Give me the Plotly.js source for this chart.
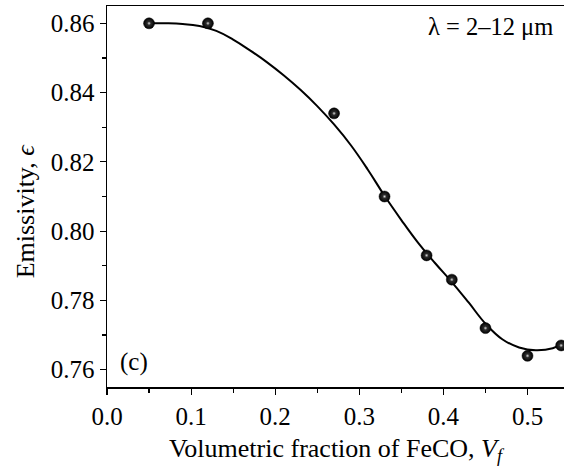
<!DOCTYPE html>
<html>
<head>
<meta charset="utf-8">
<script src="https://cdn.plot.ly/plotly-3.0.1.min.js"></script>
<style>html,body{margin:0;padding:0;background:#fff;}#chart{width:564px;height:472px;}</style>
</head>
<body>
<div id="chart"></div>
<script>
// Measured data points
const volFraction = [0.05, 0.12, 0.27, 0.33, 0.38, 0.41, 0.45, 0.50, 0.54];
const emissivity  = [0.860, 0.860, 0.834, 0.810, 0.793, 0.786, 0.772, 0.764, 0.767];

// Fitted curve
const fitX = [0.05, 0.07, 0.09, 0.11, 0.13, 0.15, 0.17, 0.19, 0.21, 0.23, 0.25, 0.27, 0.29, 0.31, 0.33, 0.35, 0.37, 0.39, 0.41, 0.43, 0.45, 0.47, 0.49, 0.51, 0.53, 0.545];
const fitY = [0.8600, 0.8600, 0.8598, 0.8592, 0.8578, 0.8553, 0.8522, 0.8488, 0.8450, 0.8408, 0.8361, 0.8308, 0.8248, 0.8178, 0.8102, 0.8032, 0.7966, 0.7908, 0.7853, 0.7794, 0.7733, 0.7688, 0.7664, 0.7656, 0.7662, 0.7680];

const xTickVals = [0.0, 0.1, 0.2, 0.3, 0.4, 0.5];
const xTickText = ['0.0', '0.1', '0.2', '0.3', '0.4', '0.5'];
const yTickVals = [0.76, 0.78, 0.80, 0.82, 0.84, 0.86];
const yTickText = ['0.76', '0.78', '0.80', '0.82', '0.84', '0.86'];

const FONT = 'Liberation Serif';

const traces = [
  {
    x: fitX, y: fitY, mode: 'lines', type: 'scatter',
    line: {color: '#000', width: 2, shape: 'spline', smoothing: 1.2},
    hoverinfo: 'skip', showlegend: false
  },
  {
    x: volFraction, y: emissivity, mode: 'markers', type: 'scatter',
    marker: {size: 11, color: '#000', gradient: {type: 'radial', color: '#444'},
             line: {width: 0.5, color: '#000'}},
    showlegend: false
  },
  {
    x: volFraction, y: emissivity, mode: 'markers', type: 'scatter',
    marker: {size: 4, color: '#222', gradient: {type: 'radial', color: '#d8d8d8'},
             line: {width: 0}},
    showlegend: false
  }
];

const layout = {
  width: 564, height: 472,
  margin: {l: 107, r: 0, t: 6, b: 85},
  paper_bgcolor: '#fff', plot_bgcolor: '#fff',
  font: {family: FONT, size: 25, color: '#000'},
  showlegend: false,
  xaxis: {
    range: [0, 0.5434],
    tickvals: xTickVals, ticktext: xTickText,
    ticks: 'outside', ticklen: 6, tickwidth: 1.2, tickcolor: '#000',
    minor: {dtick: 0.05, tick0: 0, ticks: 'outside', ticklen: 4, tickwidth: 1.2, tickcolor: '#000'},
    showline: true, linecolor: '#000', linewidth: 1.5, mirror: true,
    showgrid: false, zeroline: false,
    tickfont: {family: FONT, size: 25, color: '#000'},
    title: {text: 'Volumetric fraction of FeCO, <i>V</i><sub><i>f</i></sub>', font: {family: FONT, size: 26, color: '#000'}, standoff: 10}
  },
  yaxis: {
    range: [0.755, 0.865],
    tickvals: yTickVals, ticktext: yTickText,
    ticks: 'outside', ticklen: 6, tickwidth: 1.2, tickcolor: '#000',
    minor: {dtick: 0.01, tick0: 0.75, ticks: 'outside', ticklen: 4, tickwidth: 1.2, tickcolor: '#000'},
    showline: true, linecolor: '#000', linewidth: 1.5,
    showgrid: false, zeroline: false,
    tickfont: {family: FONT, size: 25, color: '#000'}
  },
  annotations: [
    {text: 'Emissivity, <i>ϵ</i>', xref: 'paper', yref: 'paper', x: -0.179, y: 0.4615,
     xanchor: 'center', yanchor: 'middle', textangle: -90, showarrow: false,
     font: {family: FONT, size: 26, color: '#000'}},
    {text: '(c)', xref: 'paper', yref: 'paper', x: 0.025, y: 0.065,
     xanchor: 'left', yanchor: 'middle', showarrow: false,
     font: {family: FONT, size: 25, color: '#000'}},
    {text: 'λ = 2–12 μm', xref: 'paper', yref: 'paper', x: 0.98, y: 0.945,
     xanchor: 'right', yanchor: 'middle', showarrow: false,
     font: {family: FONT, size: 24.5, color: '#000'}}
  ]
};

Plotly.newPlot('chart', traces, layout, {displayModeBar: false, staticPlot: true});
</script>
</body>
</html>
